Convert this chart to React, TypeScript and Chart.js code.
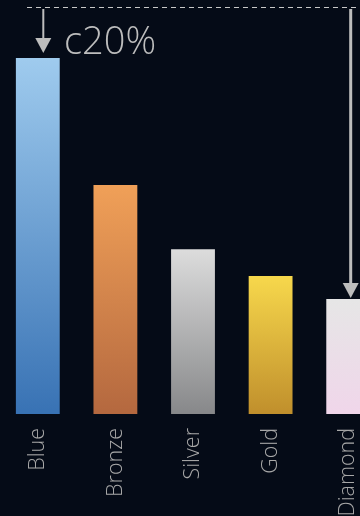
import React, { useEffect, useRef } from "react";
import { Chart, registerables } from "chart.js";

Chart.register(...registerables);

const categories = ["Blue", "Bronze", "Silver", "Gold", "Diamond"];
const values = [100, 64.3, 46.3, 38.8, 32.3];
const topColors = ["#9fcbee", "#f0a058", "#dcdcdc", "#f7d84c", "#e6e6e6"];
const bottomColors = ["#3872b4", "#b4683f", "#87888a", "#c08f2c", "#f0d6ea"];
const annotationLabel = "c20%";
const annotationLevel = 114.3;
const yMax = 116.3;

const annotationPlugin = {
  id: "annot",
  afterDraw(chart: any) {
    const ctx = chart.ctx;
    const x = chart.scales.x;
    const y = chart.scales.y;
    const lineY = Math.round(y.getPixelForValue(annotationLevel)) + 0.5;
    const blueX = x.getPixelForValue(0) + 5.5;
    const diaX = x.getPixelForValue(4) + 2.5;
    const blueTop = y.getPixelForValue(values[0]);
    const diaTop = y.getPixelForValue(values[4]);
    ctx.save();
    ctx.strokeStyle = "#c8c8c8";
    ctx.lineWidth = 1;
    ctx.setLineDash([5, 4]);
    ctx.beginPath();
    ctx.moveTo(28, lineY);
    ctx.lineTo(chart.width, lineY);
    ctx.stroke();
    ctx.setLineDash([]);
    const arrow = (ax: number, y0: number, tip: number, w: number) => {
      ctx.strokeStyle = "#bdbdbd";
      ctx.fillStyle = "#bdbdbd";
      ctx.lineWidth = w;
      ctx.beginPath();
      ctx.moveTo(ax, y0);
      ctx.lineTo(ax, tip - 14);
      ctx.stroke();
      ctx.beginPath();
      ctx.moveTo(ax - 8, tip - 15);
      ctx.lineTo(ax + 8, tip - 15);
      ctx.lineTo(ax, tip);
      ctx.closePath();
      ctx.fill();
    };
    arrow(blueX, lineY + 1.5, blueTop - 5, 2);
    arrow(diaX, lineY + 1.5, diaTop - 1, 3);
    ctx.fillStyle = "#bdbdbd";
    ctx.font = "300 38px 'Open Sans'";
    ctx.textBaseline = "alphabetic";
    ctx.textAlign = "left";
    ctx.fillText(annotationLabel, 65, 54);
    ctx.restore();
  },
};

export default function App() {
  const ref = useRef<HTMLCanvasElement>(null);
  useEffect(() => {
    document.body.style.margin = "0";
    document.body.style.background = "#050b17";
    document.body.style.overflow = "hidden";
    const chart = new Chart(ref.current!, {
      type: "bar",
      data: {
        labels: categories,
        datasets: [
          {
            data: values,
            barPercentage: 0.565,
            categoryPercentage: 1,
            backgroundColor: (c: any) => {
              const chart = c.chart;
              const area = chart.chartArea;
              if (!area || c.dataIndex === undefined) return topColors[0];
              const yScale = chart.scales.y;
              const top = yScale.getPixelForValue(values[c.dataIndex]);
              const bottom = yScale.getPixelForValue(0);
              const g = chart.ctx.createLinearGradient(0, top, 0, bottom);
              g.addColorStop(0, topColors[c.dataIndex]);
              g.addColorStop(1, bottomColors[c.dataIndex]);
              return g;
            },
          },
        ],
      },
      options: {
        animation: false,
        responsive: false,
        maintainAspectRatio: false,
        layout: { padding: 0 },
        plugins: { legend: { display: false }, tooltip: { enabled: false } },
        scales: {
          x: {
            grid: { display: false, drawTicks: false },
            border: { display: false },
            afterFit: (s: any) => {
              s.height = 102;
            },
            ticks: {
              color: "#a8a8a8",
              font: { family: "'Open Sans'", size: 21.5, weight: "300" as any },
              maxRotation: 90,
              minRotation: 90,
              padding: 14,
            },
          },
          y: {
            display: false,
            min: 0,
            max: yMax,
          },
        },
      },
      plugins: [annotationPlugin],
    });
    return () => chart.destroy();
  }, []);
  return (
    <div style={{ position: "fixed", left: 0, top: 0, width: 360, height: 516, background: "#050b17", overflow: "hidden" }}>
      <canvas ref={ref} width={389} height={516} style={{ position: "absolute", left: -1, top: 0, width: 389, height: 516 }} />
    </div>
  );
}
